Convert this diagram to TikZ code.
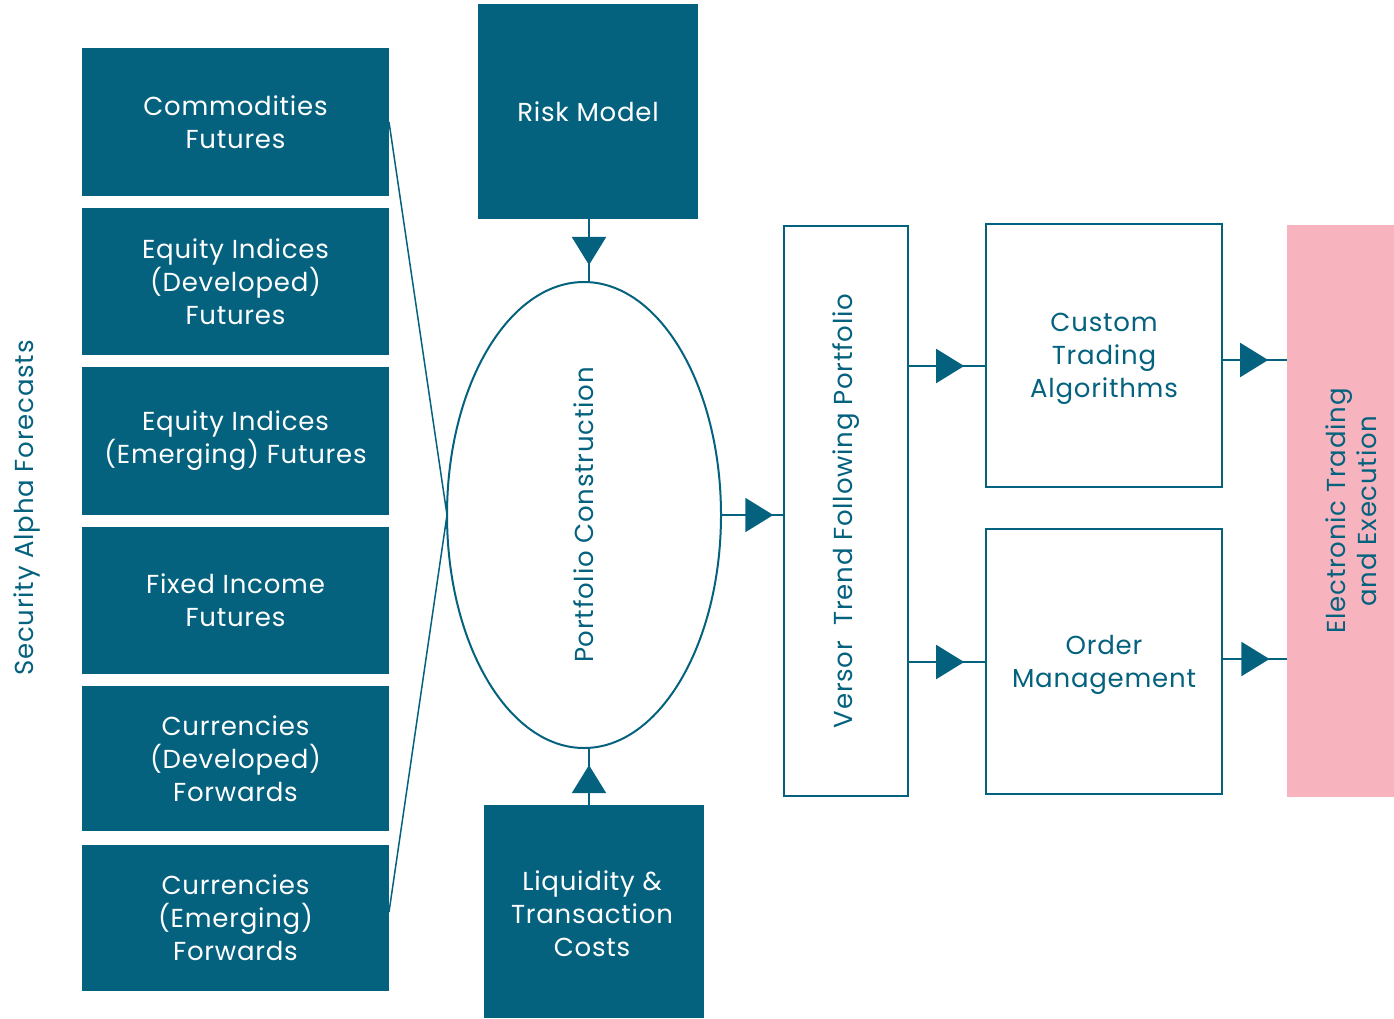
\documentclass[tikz,border=0pt]{standalone}
\usepackage{fontspec}
\setmainfont[LetterSpace=3]{Poppins}
\usetikzlibrary{shapes.geometric,arrows.meta,decorations.markings}
\definecolor{teal1}{HTML}{05627F}
\definecolor{pink1}{HTML}{F8B4BE}
\tikzset{
  txt/.style={font=\fontsize{26}{33}\selectfont},
  fbox/.style={rectangle, fill=teal1, text=white, inner sep=0pt, outer sep=0pt, anchor=north west, align=center, txt},
  obox/.style={rectangle, draw=teal1, line width=2pt, fill=white, inner sep=0pt, outer sep=0pt, anchor=north west},
  lbl/.style={text=teal1, inner sep=0pt, align=center, txt},
  feed/.style={draw=teal1, line width=1.5pt},
  conn/.style={draw=teal1, line width=2pt, postaction={decorate}, decoration={markings, mark=at position #1 with {\arrow[teal1]{Triangle[length=28pt,width=34pt]}}}},
}
\begin{document}
\begin{tikzpicture}[x=1pt,y=-1pt]
\useasboundingbox (0,0) rectangle (1394,1018);
% left boxes
\node[fbox, minimum width=307pt, minimum height=148pt] (c1) at (82,48) {Commodities\\Futures};
\node[fbox, minimum width=307pt, minimum height=147pt] (c2) at (82,208) {Equity Indices\\(Developed)\\Futures};
\node[fbox, minimum width=307pt, minimum height=148pt] (c3) at (82,367) {Equity Indices\\(Emerging) Futures};
\node[fbox, minimum width=307pt, minimum height=147pt] (c4) at (82,527) {Fixed Income\\Futures};
\node[fbox, minimum width=307pt, minimum height=145pt] (c5) at (82,686) {Currencies\\(Developed)\\Forwards};
\node[fbox, minimum width=307pt, minimum height=146pt] (c6) at (82,845) {Currencies\\(Emerging)\\Forwards};
\node[lbl, rotate=90] (saf) at (27,508) {Security Alpha Forecasts};
% risk and liquidity
\node[fbox, minimum width=220pt, minimum height=215pt] (risk) at (478,4) {Risk Model};
\node[fbox, minimum width=220pt, minimum height=213pt] (liq) at (484,805) {};
\node[lbl, text=white] (liqt) at (592,914) {Liquidity \&\\Transaction\\Costs};
% ellipse
\node[ellipse, draw=teal1, line width=2pt, minimum width=274pt, minimum height=466pt, inner sep=0pt, outer sep=0pt] (pc) at (584,515) {};
\node[lbl, rotate=90] (pct) at (584,515) {Portfolio Construction};
% versor
\node[obox, minimum width=124pt, minimum height=570pt] (vs) at (784,226) {};
\node[lbl, rotate=90] (vst) at (846,511) {Versor\ \ Trend Following Portfolio};
% custom & order
\node[obox, minimum width=236pt, minimum height=263pt] (cta) at (986,224) {};
\node[lbl] (ctat) at (1104,359) {Custom\\Trading\\Algorithms};
\node[obox, minimum width=236pt, minimum height=265pt] (om) at (986,529) {};
\node[lbl] (omt) at (1104,665) {Order\\Management};
% pink
\node[rectangle, fill=pink1, inner sep=0pt, outer sep=0pt, anchor=north west, minimum width=107pt, minimum height=572pt] (ete) at (1287,225) {};
\node[lbl, rotate=90, font=\fontsize{26}{31}\selectfont] (etet) at (1351,511) {Electronic Trading\\and Execution};
% feed lines
\draw[feed] (c1.east) -- (pc.west);
\draw[feed] ([yshift=6pt]c6.east) -- (pc.west);
% connectors
\draw[conn=0.73] (risk.south -| 589,0) -- (pc.north -| 589,0);
\draw[conn=0.70] (liq.north -| 589,0) -- (pc.south -| 589,0);
\draw[conn=0.83] (pc.east) -- (vs.west |- pc.east);
\draw[conn=0.72] (vs.east |- 0,366) -- (cta.west |- 0,366);
\draw[conn=0.72] (vs.east |- 0,662) -- (om.west |- 0,662);
\draw[conn=0.71] (cta.east |- 0,360) -- (ete.west |- 0,360);
\draw[conn=0.73] (om.east |- 0,659) -- (ete.west |- 0,659);
\end{tikzpicture}
\end{document}
